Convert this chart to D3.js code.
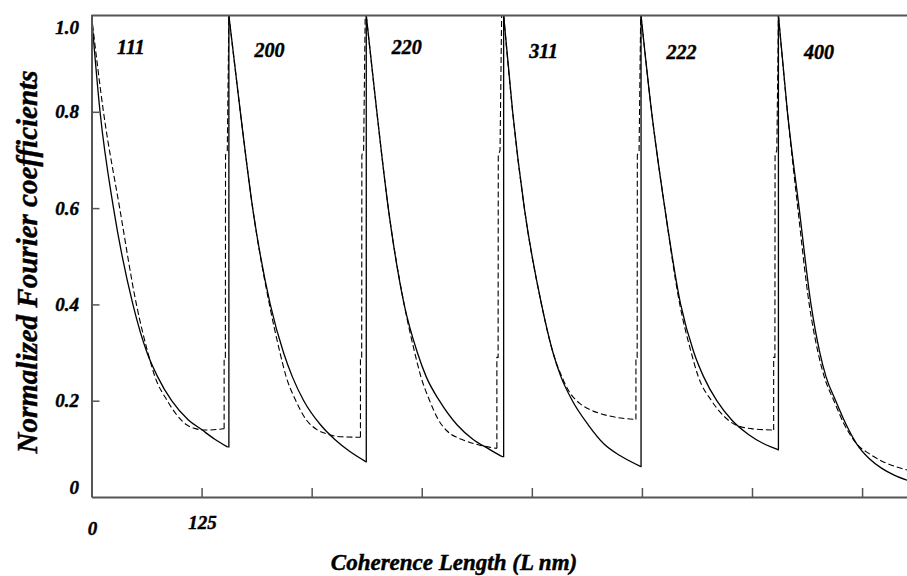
<!DOCTYPE html>
<html>
<head>
<meta charset="utf-8">
<script src="https://cdn.jsdelivr.net/npm/d3@7"></script>
<style>
  html, body { margin: 0; padding: 0; background: #fff; }
  svg { display: block; }
  text { font-family: "Liberation Serif", "DejaVu Serif", serif; font-weight: bold; font-style: italic; fill: #000; }
</style>
</head>
<body>
<svg id="chart" width="907" height="576"></svg>
<script>
// ---------- data ----------
const reflections = ["111", "200", "220", "311", "222", "400"];
const segmentStart = [0, 156, 312, 468, 624, 780];   // offset of each reflection block on the L axis

// [local L, normalized coefficient]  solid = measured, dashed = model
const solid111 = [[0,1],[9.7,0.80],[25,0.60],[47,0.40],[63,0.30],[75,0.25],[91,0.20],[110,0.16],[125,0.14],[140,0.12],[154.3,0.104]];
const dashed111 = [[0,1],[13.6,0.80],[32,0.60],[51,0.40],[64,0.30],[72,0.25],[86,0.20],[97,0.17],[108,0.15],[118,0.142],[130,0.139],[150.6,0.142]];

const solid200 = [[0,1],[13,0.80],[27,0.60],[47,0.40],[62,0.30],[72,0.25],[85,0.20],[104,0.15],[120,0.12],[137,0.095],[155.9,0.073]];
const dashed200 = [[0,1],[13,0.80],[27,0.60],[46,0.40],[58,0.30],[65,0.25],[76,0.20],[88,0.16],[100,0.14],[113,0.13],[128,0.125],[149.4,0.124]];

const solid220 = [[0,1],[12,0.80],[25,0.60],[43,0.40],[58,0.30],[68,0.25],[83,0.20],[103,0.15],[121,0.12],[139,0.10],[154,0.084]];
const dashed220 = [[0,1],[12,0.80],[25,0.60],[43,0.40],[55,0.30],[62,0.25],[72,0.20],[82,0.16],[93,0.135],[108,0.12],[128,0.108],[148.3,0.101]];

const solid311 = [[0,1],[10.2,0.80],[23.5,0.60],[43,0.40],[56,0.30],[65,0.25],[78,0.20],[96,0.15],[114,0.11],[133,0.085],[155.9,0.063]];
const dashed311 = [[0,1],[10.2,0.80],[23.5,0.60],[43,0.40],[56,0.30],[66,0.25],[74,0.22],[86,0.195],[100,0.18],[116,0.17],[133,0.164],[150.2,0.161]];

const solid222 = [[0,1],[12,0.80],[27,0.60],[45,0.40],[60,0.30],[71,0.25],[86,0.20],[103,0.16],[122,0.13],[140,0.11],[156.3,0.098]];
const dashed222 = [[0,1],[12,0.80],[27,0.60],[44,0.40],[57,0.30],[65,0.25],[80,0.20],[93,0.17],[107,0.15],[125,0.142],[150.6,0.139]];

const solid400 = [[0,1],[10.2,0.80],[23.5,0.60],[37,0.40],[47,0.30],[54,0.25],[65,0.20],[77,0.15],[89,0.11],[103,0.08],[117,0.06],[132,0.045],[146,0.035]];
const dashed400 = [[0,1],[10.2,0.80],[22,0.60],[35,0.40],[45,0.30],[52,0.25],[63,0.20],[75,0.15],[89,0.11],[103,0.09],[117,0.075],[132,0.064],[146,0.056]];

// dashed curve climbing back to 1.0 at the end of each block: [offset from block end L, value]
const dashedRise = [[0,0.29],[1.4,0.29],[1.6,0.71],[3.6,0.72],[5.4,1]];

const solidSeries = [solid111, solid200, solid220, solid311, solid222, solid400];
const dashedSeries = [dashed111, dashed200, dashed220, dashed311, dashed222, dashed400];

const yTickValues = [0.2, 0.4, 0.6, 0.8];
const yTickLabels = ["0", "0.2", "0.4", "0.6", "0.8", "1.0"];
const yTickLabelValues = [0, 0.2, 0.4, 0.6, 0.8, 1.0];
const xTickValues = [125, 250, 375, 500, 625, 750, 875];
const xTickLabels = ["0", "125"];
const xTickLabelValues = [0, 125];

// ---------- layout ----------
const svg = d3.select("#chart");
const x = d3.scaleLinear().domain([0, 926]).range([91.5, 907]);
const y = d3.scaleLinear().domain([0, 1]).range([497, 15.5]);
const axisColor = "#555";

svg.append("defs").append("clipPath").attr("id", "plotClip")
  .append("rect").attr("x", 91).attr("y", 10).attr("width", 816).attr("height", 490);

const plot = svg.append("g").attr("clip-path", "url(#plotClip)");

const curveLine = d3.line()
  .x(d => x(d[0]))
  .y(d => y(d[1]))
  .curve(d3.curveMonotoneX);
const straight = d3.line()
  .x(d => x(d[0]))
  .y(d => y(d[1]));

// solid curves + vertical returns
solidSeries.forEach((s, i) => {
  const off = segmentStart[i];
  const pts = s.map(d => [d[0] + off, d[1]]);
  plot.append("path").attr("d", curveLine(pts))
    .attr("fill", "none").attr("stroke", "#000").attr("stroke-width", 1.3);
  if (i < solidSeries.length - 1) {
    const last = pts[pts.length - 1];
    const nextStart = segmentStart[i + 1];
    plot.append("path").attr("d", straight([last, [nextStart, last[1]], [nextStart, 1]]))
      .attr("fill", "none").attr("stroke", "#000").attr("stroke-width", 1.3);
  }
});

// dashed curves + returns
dashedSeries.forEach((s, i) => {
  const off = segmentStart[i];
  const pts = s.map(d => [d[0] + off, d[1]]);
  plot.append("path").attr("d", curveLine(pts))
    .attr("fill", "none").attr("stroke", "#000").attr("stroke-width", 1.1)
    .attr("stroke-dasharray", "6,3");
  if (i < dashedSeries.length - 1) {
    const last = pts[pts.length - 1];
    const nextStart = segmentStart[i + 1];
    const endL = last[0];
    const rise = [last].concat(dashedRise.map(d => [Math.min(endL + d[0], nextStart), d[1]]));
    rise.push([nextStart, 1]);
    plot.append("path").attr("d", straight(rise))
      .attr("fill", "none").attr("stroke", "#000").attr("stroke-width", 1.1)
      .attr("stroke-dasharray", "6,3");
  }
});

// axes
const yAxis = d3.axisLeft(y).tickValues(yTickValues).tickSize(-8).tickSizeOuter(0).tickFormat("");
const gy = svg.append("g").attr("transform", `translate(${x(0)},0)`).call(yAxis);
const xAxis = d3.axisBottom(x).tickValues(xTickValues).tickSize(-9).tickSizeOuter(0).tickFormat("");
const gx = svg.append("g").attr("transform", `translate(0,${y(0)})`).call(xAxis);
[gx, gy].forEach(g => {
  g.selectAll("path.domain").attr("stroke", axisColor).attr("stroke-width", 2);
  g.selectAll("line").attr("stroke", axisColor).attr("stroke-width", 1.5);
});
// top frame line
svg.append("line")
  .attr("x1", x(0)).attr("x2", 907).attr("y1", y(1)).attr("y2", y(1))
  .attr("stroke", axisColor).attr("stroke-width", 2);

const heavy = sel => sel.attr("stroke", "#000").attr("stroke-width", 0.45);

// y tick labels (end labels nudged inside like the reference)
const yNudge = v => (v === 1 ? 12 : v === 0 ? -10 : 0);
svg.selectAll("text.ylab").data(yTickLabelValues).enter().append("text")
  .attr("class", "ylab")
  .attr("x", 79)
  .attr("y", v => y(v) + yNudge(v))
  .attr("dy", "0.35em")
  .attr("text-anchor", "end")
  .style("font-size", "19px")
  .call(heavy)
  .text((v, i) => yTickLabels[i]);

// x tick labels
svg.selectAll("text.xlab").data(xTickLabelValues).enter().append("text")
  .attr("class", "xlab")
  .attr("x", v => x(v) + 1)
  .attr("y", v => (v === 0 ? 528 : 522))
  .attr("dy", "0.35em")
  .attr("text-anchor", "middle")
  .style("font-size", "19px")
  .call(heavy)
  .text((v, i) => xTickLabels[i]);

// reflection labels
svg.selectAll("text.refl").data(reflections).enter().append("text")
  .attr("class", "refl")
  .attr("x", (d, i) => x(segmentStart[i] + 29))
  .attr("y", (d, i) => [47, 50, 47, 51, 52, 52][i])
  .attr("dy", "0.35em")
  .attr("text-anchor", "start")
  .style("font-size", "20px")
  .call(heavy)
  .text(d => d);

// axis titles
svg.append("text")
  .attr("x", 454).attr("y", 562).attr("dy", "0.35em")
  .attr("text-anchor", "middle")
  .style("font-size", "23px")
  .call(heavy)
  .text("Coherence Length (L nm)");

svg.append("text")
  .attr("transform", "translate(27,262) rotate(-90)")
  .attr("dy", "0.35em")
  .attr("text-anchor", "middle")
  .style("font-size", "29px")
  .call(heavy)
  .text("Normalized Fourier coefficients");
</script>
</body>
</html>
